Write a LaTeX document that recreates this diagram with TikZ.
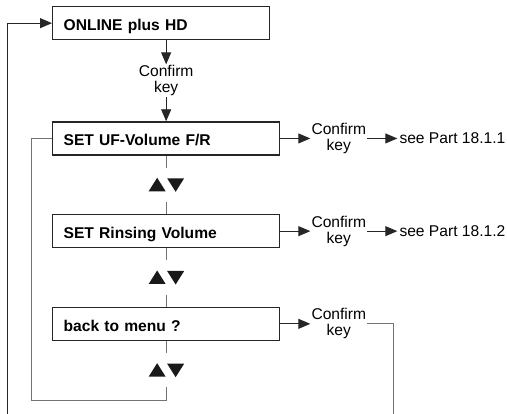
\documentclass[tikz,border=0pt]{standalone}
\usepackage{fontspec}
\setmainfont{Liberation Sans}
\usetikzlibrary{arrows.meta, positioning}

\begin{document}
\begin{tikzpicture}[
    x=1pt, y=1pt,
    font=\fontsize{15.6}{16}\selectfont,
    % Menu styles
    menubox/.style={rectangle, draw=black!85, line width=1.3pt, fill=white,
        text width=205pt, minimum height=33pt, inner xsep=11pt, align=left,
        text height=15pt, text depth=0pt, font=\fontsize{15.6}{16}\selectfont\bfseries},
    topbox/.style={menubox, text width=195pt},
    keylabel/.style={align=center, inner sep=1pt},
    targetlabel/.style={inner sep=2pt},
    updown/.style={minimum width=36pt, minimum height=34pt, inner sep=0pt,
        path picture={
            \fill[black!90] (path picture bounding box.center) ++(-17.5,-6.5) -- ++(17,0) -- ++(-8.5,13.5) -- cycle;
            \fill[black!90] (path picture bounding box.center) ++(1,6.5) -- ++(17,0) -- ++(-8.5,-13.5) -- cycle;
        }},
    arrow/.style={-{Triangle[length=12pt, width=10pt]}, line width=0.9pt, draw=black!85},
    connector/.style={line width=0.9pt, draw=black!55},
]
\useasboundingbox (0,0) rectangle (507,-414);

% ============ Menu column ============
\node[topbox, anchor=north west] (online) at (52,-6) {ONLINE plus HD};
\node[menubox, below=81pt of online.south west, anchor=north west] (ufvol) {SET UF-Volume F/R};
\node[keylabel, above=24pt of ufvol] (key0) {Confirm\\key};

\node[updown, below=12pt of ufvol] (ud1) {};
\node[menubox, below=12pt of ud1] (rinse) {SET Rinsing Volume};
\node[updown, below=12pt of rinse] (ud2) {};
\node[menubox, below=12pt of ud2] (backmenu) {back to menu ?};
\node[updown, below=12pt of backmenu] (ud3) {};

% ============ Confirm branches ============
\node[keylabel, right=30pt of ufvol] (key1) {Confirm\\key};
\node[targetlabel, right=30pt of key1] (part1) {see Part 18.1.1};
\node[keylabel, right=30pt of rinse] (key2) {Confirm\\key};
\node[targetlabel, right=30pt of key2] (part2) {see Part 18.1.2};
\node[keylabel, right=30pt of backmenu] (key3) {Confirm\\key};

% free ends
\coordinate (back) at ([xshift=-21pt]ufvol.west);
\coordinate (exitL) at (7,-414);
\coordinate (exitR) at (393,-414);

% ============ Arrows ============
\draw[arrow] (key0.north |- online.south) -- (key0);
\draw[arrow] (key0) -- (ufvol);

\draw[connector] (ufvol) -- (ud1);
\draw[connector] (ud1) -- (rinse);
\draw[connector] (rinse) -- (ud2);
\draw[connector] (ud2) -- (backmenu);
\draw[connector] (backmenu) -- (ud3);
\draw[connector] (ud3.south) -- ++(0,-13) -| (back) -- (ufvol.west);

\draw[arrow] (ufvol) -- (key1);
\draw[arrow] (key1) -- (part1);
\draw[arrow] (rinse) -- (key2);
\draw[arrow] (key2) -- (part2);
\draw[arrow] (backmenu) -- (key3);
\draw[connector] (key3.east) -| (exitR);
\draw[arrow] (exitL) |- (online.west);

\end{tikzpicture}
\end{document}
